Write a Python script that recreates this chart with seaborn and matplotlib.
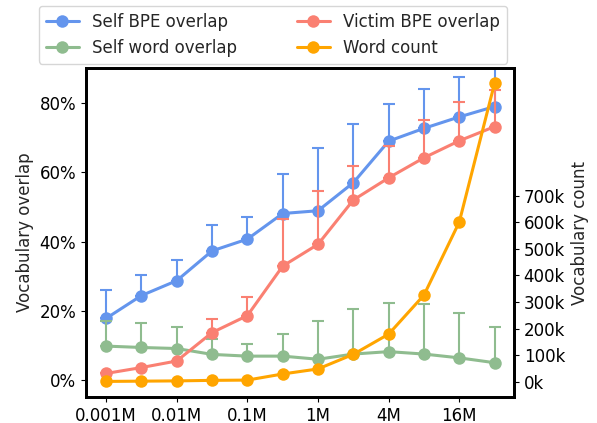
import numpy as np
import pandas as pd
import seaborn as sns
import matplotlib.pyplot as plt
from matplotlib.ticker import PercentFormatter, FuncFormatter


# Dados
tamanhos = ['0.001M', '0.003M', '0.01M', '0.03M', '0.1M', '0.3M',
            '1M', '2M', '4M', '8M', '16M', '32M']
rotulos_x = ['0.001M', '0.01M', '0.1M', '1M', '4M', '16M']

self_bpe = [0.178, 0.244, 0.287, 0.373, 0.407, 0.481, 0.489, 0.570, 0.690, 0.727, 0.760, 0.790]
self_bpe_err = [0.082, 0.059, 0.060, 0.075, 0.063, 0.114, 0.182, 0.169, 0.107, 0.115, 0.116, 0.200]

victim_bpe = [0.019, 0.036, 0.055, 0.137, 0.186, 0.329, 0.392, 0.520, 0.584, 0.642, 0.691, 0.732]
victim_bpe_err = [0.0, 0.0, 0.0, 0.039, 0.054, 0.136, 0.155, 0.099, 0.093, 0.109, 0.113, 0.106]

self_word = [0.098, 0.094, 0.091, 0.074, 0.069, 0.069, 0.060, 0.075, 0.082, 0.075, 0.064, 0.050]
self_word_err = [0.073, 0.070, 0.063, 0.045, 0.035, 0.063, 0.110, 0.130, 0.141, 0.144, 0.129, 0.104]

word_count = [1000, 2000, 3000, 5000, 6000, 29000, 48000, 103000, 179000, 326000, 601000, 1124000]

df = pd.DataFrame({
    'idx': np.arange(len(tamanhos)),
    'self_bpe': self_bpe,
    'victim_bpe': victim_bpe,
    'self_word': self_word,
    'word_count': word_count,
})

sns.set_theme(style="ticks", rc={
    'axes.edgecolor': 'black',
    'axes.linewidth': 2.0,
    'xtick.color': 'black',
    'ytick.color': 'black',
    'font.size': 12,
    'xtick.labelsize': 12,
    'ytick.labelsize': 12,
    'axes.labelsize': 12,
    'legend.fontsize': 12,
})
plt.rcParams['font.family'] = ['DejaVu Sans']

fig = plt.figure(figsize=(5.97, 4.23), dpi=100)
ax = fig.add_axes([0.144, 0.0615, 0.717, 0.7775])
ax2 = ax.twinx()

# Séries de sobreposição (eixo esquerdo)
series = [
    ('self_bpe', self_bpe_err, 'cornflowerblue', 'Self BPE overlap'),
    ('self_word', self_word_err, 'darkseagreen', 'Self word overlap'),
    ('victim_bpe', victim_bpe_err, 'salmon', 'Victim BPE overlap'),
]
for col, err, cor, nome in series:
    ax.errorbar(df['idx'], df[col], yerr=[np.zeros(len(err)), err],
                fmt='none', ecolor=cor, elinewidth=1.5, capsize=4, capthick=1.5)
    sns.lineplot(x='idx', y=col, data=df, ax=ax, color=cor, marker='o',
                 markersize=9, markeredgewidth=0, linewidth=2.2, label=nome, legend=False)

# Contagem de palavras (eixo direito)
sns.lineplot(x='idx', y='word_count', data=df, ax=ax2, color='orange', marker='o',
             markersize=9, markeredgewidth=0, linewidth=2.2, label='Word count', legend=False)

ax.set_xticks(np.arange(0, len(tamanhos), 2))
ax.set_xticklabels(rotulos_x)
ax.set_xlim(-0.57, 11.55)
ax.set_ylim(-0.049, 0.901)
ax.set_yticks([0, 0.2, 0.4, 0.6, 0.8])
ax.yaxis.set_major_formatter(PercentFormatter(xmax=1, decimals=0))
ax.set_xlabel('')
ax.set_ylabel('Vocabulary overlap')

ax2.set_ylim(-57600, 1180600)
ax2.set_yticks(np.arange(0, 800000, 100000))
ax2.yaxis.set_major_formatter(FuncFormatter(lambda v, p: f'{int(round(v / 1000))}k'))
ax2.set_ylabel('Vocabulary count')

for a in (ax, ax2):
    a.tick_params(width=0.8, length=3.5, pad=3.5)

h1, l1 = ax.get_legend_handles_labels()
h2, l2 = ax2.get_legend_handles_labels()
handles = [h1[0], h1[1], h1[2], h2[0]]
labels = [l1[0], l1[1], l1[2], l2[0]]
fig.legend(handles, labels, ncol=2, loc='upper left', mode='expand',
           bbox_to_anchor=(0.0653, 0.5, 0.784, 0.4858), frameon=True, borderaxespad=0,
           handlelength=2.0)

plt.savefig('out.png', dpi=100)
